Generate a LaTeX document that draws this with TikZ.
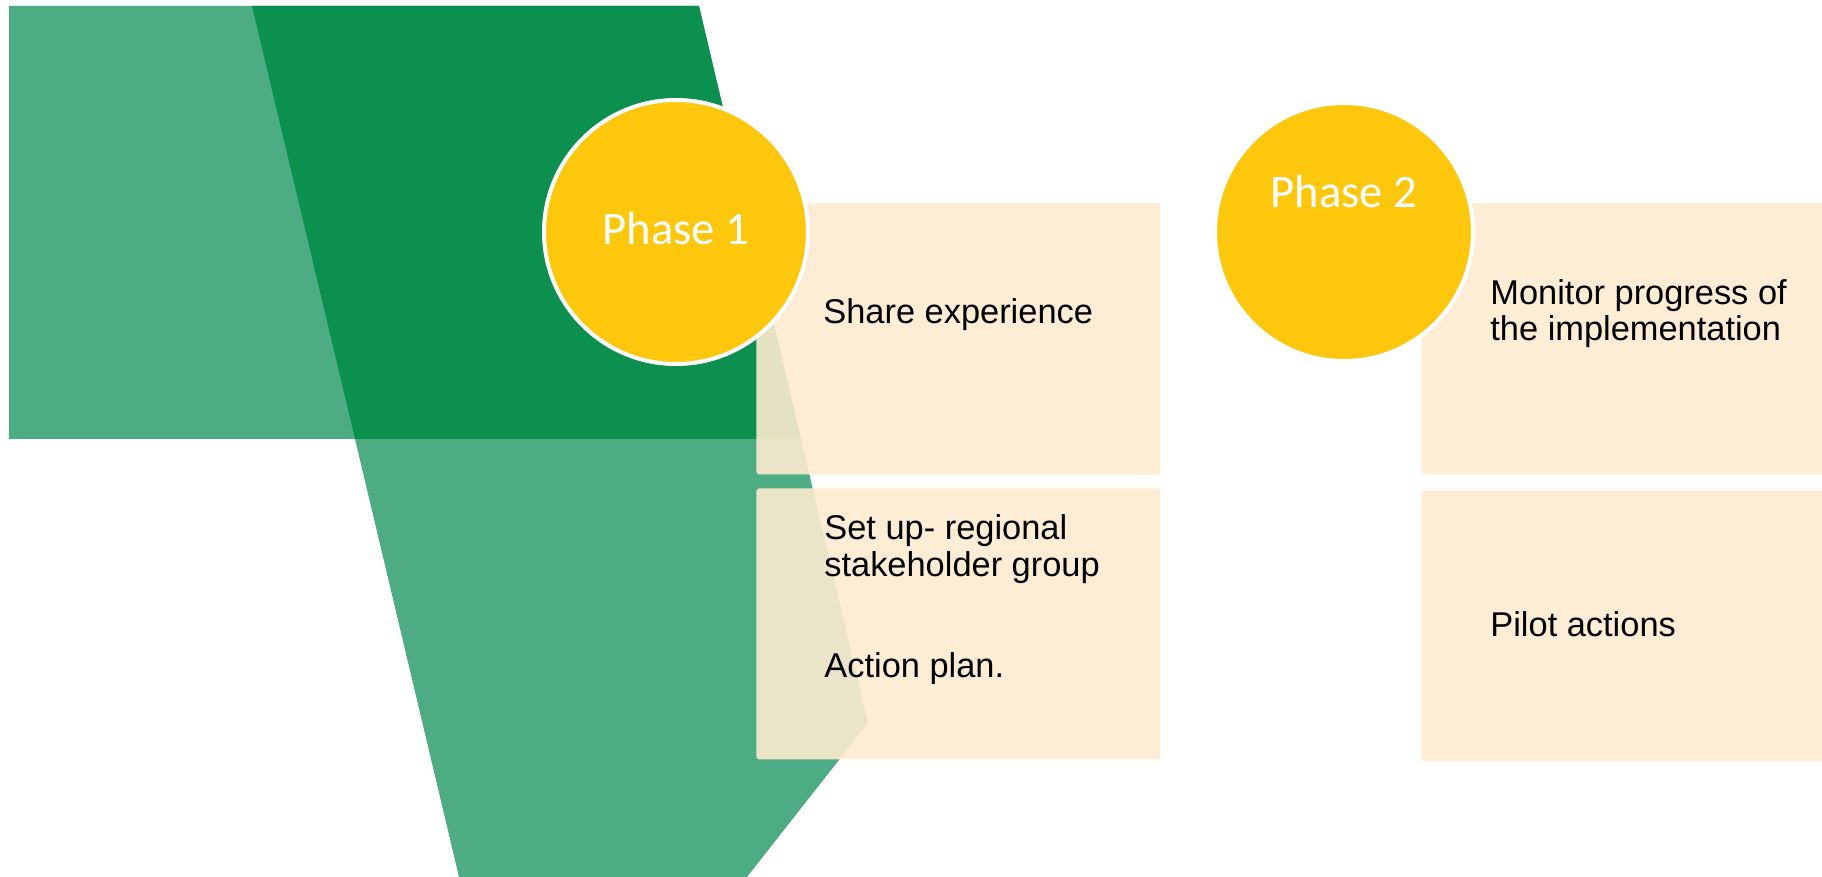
\documentclass[tikz,border=0pt]{standalone}
\usepackage{fontspec}
\setmainfont{Liberation Sans}
\newfontfamily\phasefont{Carlito}
\usetikzlibrary{positioning, calc}
\definecolor{gLight}{RGB}{78,172,132}
\definecolor{gDark}{RGB}{12,144,80}
\definecolor{pYellow}{RGB}{252,199,12}
\definecolor{bBeige}{RGB}{253,235,208}

\begin{document}
\begin{tikzpicture}[x=0.5pt, y=-0.5pt,
      stepbox/.style={rectangle, fill=bBeige, fill opacity=0.9, draw=none,
                      rounded corners=1.5pt, inner sep=0, anchor=north west,
                      minimum width=202pt, minimum height=135.5pt},
      phase/.style={circle, fill=pYellow, draw=white, line width=2pt,
                    inner sep=0, minimum size=#1},
      txt/.style={font=\fontsize{17.2}{18.2}\selectfont, anchor=base west,
                  inner sep=0, align=left},
      phtxt/.style={font=\phasefont\fontsize{23.3}{28}\selectfont,
                    text=white, anchor=base, inner sep=0}]
    \useasboundingbox (0,0) rectangle (1822,877);

    % green background bands
    \fill[gLight] (9,6) -- (699,6) -- (868,723) -- (747,877) -- (459,877)
                  -- (355,439) -- (9,439) -- cycle;
    \fill[gDark] (252,6) -- (699,6) -- (801,439) -- (355,439) -- cycle;

    % boxes
    \node[stepbox] (box1) at (756,203) {};
    \node[stepbox] (box2) at (756,488) {};
    \node[stepbox] (box3) at (1421,203) {};
    \node[stepbox] (box4) at (1421,490) {};

    % phases
    \node[phase=132pt] (ph1) at (676,232) {};
    \node[phase=129pt] (ph2) at (1344,232) {};
    \node[phtxt] (ph1t) at ($(ph1.center)+(0,13)$) {Phase 1};
    \node[phtxt] (ph2t) at ($(ph2.center)+(0,-24)$) {Phase 2};

    % texts (base = last line)
    \node[txt] (share) at ($(box1.north west)+(67,121)$) {Share experience};
    \node[txt] (setup) at ($(box2.north west)+(68,88)$) {Set up- regional\\stakeholder group};
    \node[txt] (plan) at ($(box2.north west)+(68,189)$) {Action plan.};
    \node[txt] (monitor) at ($(box3.north west)+(69,138)$) {Monitor progress of\\the implementation};
    \node[txt] (pilot) at ($(box4.north west)+(69,146)$) {Pilot actions};
  \end{tikzpicture}
\end{document}
